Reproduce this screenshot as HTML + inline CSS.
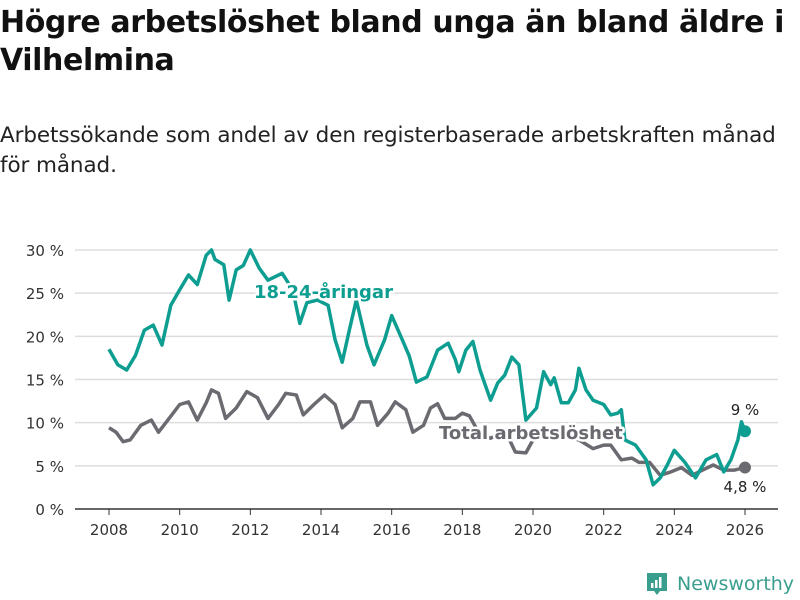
<!DOCTYPE html>
<html><head><meta charset="utf-8"><style>
body{margin:0;width:800px;height:600px;background:#fff;font-family:"Liberation Sans","DejaVu Sans",sans-serif;overflow:hidden;position:relative}
h1{position:absolute;left:0;top:4px;margin:0;font-size:30px;line-height:38px;font-weight:bold;color:#111;font-family:"DejaVu Sans",sans-serif;letter-spacing:-0.4px}
.sub{position:absolute;left:0;top:121px;font-size:21.5px;line-height:30px;color:#222;font-family:"DejaVu Sans",sans-serif;letter-spacing:-0.1px}
svg{position:absolute;left:0;top:0}
</style></head><body>
<h1>Högre arbetslöshet bland unga än bland äldre i<br>Vilhelmina</h1>
<div class="sub">Arbetssökande som andel av den registerbaserade arbetskraften månad<br>för månad.</div>
<svg id="c" width="800" height="600"></svg>
<script>
const youthX=[2008.0,2008.25,2008.5,2008.75,2009.0,2009.25,2009.5,2009.75,2010.0,2010.25,2010.5,2010.75,2010.9,2011.0,2011.25,2011.4,2011.6,2011.8,2012.0,2012.25,2012.5,2012.9,2013.2,2013.4,2013.6,2013.9,2014.2,2014.4,2014.6,2014.8,2015.0,2015.3,2015.5,2015.8,2016.0,2016.3,2016.5,2016.7,2017.0,2017.3,2017.6,2017.8,2017.9,2018.1,2018.3,2018.5,2018.8,2019.0,2019.2,2019.4,2019.6,2019.8,2020.1,2020.3,2020.5,2020.6,2020.8,2021.0,2021.2,2021.3,2021.5,2021.7,2022.0,2022.2,2022.4,2022.5,2022.6,2022.9,2023.2,2023.4,2023.6,2023.8,2024.0,2024.3,2024.6,2024.9,2025.2,2025.4,2025.6,2025.8,2025.9,2026.0];
const youthV=[18.5,16.7,16.1,17.8,20.7,21.3,19.0,23.6,25.4,27.1,26.0,29.4,30.0,28.9,28.3,24.2,27.7,28.2,30.0,27.9,26.5,27.3,25.4,21.5,23.9,24.2,23.6,19.6,17.0,20.7,24.2,19.0,16.7,19.6,22.4,19.6,17.7,14.7,15.3,18.4,19.2,17.3,15.9,18.4,19.4,16.1,12.6,14.6,15.5,17.6,16.7,10.3,11.7,15.9,14.4,15.2,12.3,12.3,13.8,16.3,13.8,12.6,12.1,10.9,11.1,11.5,8.0,7.4,5.7,2.8,3.6,5.1,6.8,5.4,3.6,5.7,6.3,4.3,5.7,8.0,10.1,9.0];
const totalX=[2008.0,2008.2,2008.4,2008.6,2008.9,2009.2,2009.4,2009.7,2010.0,2010.25,2010.5,2010.75,2010.9,2011.1,2011.3,2011.6,2011.9,2012.2,2012.5,2012.8,2013.0,2013.3,2013.5,2013.8,2014.1,2014.4,2014.6,2014.9,2015.1,2015.4,2015.6,2015.9,2016.1,2016.4,2016.6,2016.9,2017.1,2017.3,2017.5,2017.8,2018.0,2018.2,2018.5,2018.8,2019.0,2019.2,2019.5,2019.8,2020.0,2020.4,2020.8,2021.3,2021.7,2022.0,2022.2,2022.5,2022.8,2023.0,2023.3,2023.6,2023.9,2024.2,2024.5,2024.8,2025.1,2025.4,2025.7,2026.0];
const totalV=[9.4,8.9,7.8,8.0,9.7,10.3,8.9,10.5,12.1,12.4,10.3,12.3,13.8,13.4,10.5,11.7,13.6,12.9,10.5,12.1,13.4,13.2,10.9,12.1,13.2,12.1,9.4,10.5,12.4,12.4,9.7,11.1,12.4,11.5,8.9,9.7,11.7,12.2,10.5,10.5,11.1,10.8,8.6,8.2,8.6,9.2,6.6,6.5,8.0,9.0,8.5,8.0,7.0,7.4,7.4,5.7,5.9,5.4,5.4,3.9,4.3,4.8,3.9,4.5,5.1,4.5,4.5,4.8];
const yTicks=[0,5,10,15,20,25,30];
const xTicks=[2008,2010,2012,2014,2016,2018,2020,2022,2024,2026];
const NS='http://www.w3.org/2000/svg';
const svg=document.getElementById('c');
const sx=v=>109+(v-2008)*(745-109)/18;
const sy=v=>509-v*(509-250)/30;
function mk(t,a,p){const e=document.createElementNS(NS,t);for(const k in a)e.setAttribute(k,a[k]);(p||svg).appendChild(e);return e;}
yTicks.forEach(t=>{
  const l=mk('line',{x1:75,x2:778,y1:sy(t),y2:sy(t),stroke:t===0?'#333':'#ddd','stroke-width':1.5});
  
  
  const tx=mk('text',{x:64,y:sy(t)+6,'text-anchor':'end','font-size':15,fill:'#333','font-family':'DejaVu Sans,sans-serif'});
  tx.textContent=t+' %';
  
  
});
xTicks.forEach(t=>{
  mk('line',{x1:sx(t),x2:sx(t),y1:509,y2:515,stroke:'#333'});
  const tx=mk('text',{x:sx(t),y:535,'text-anchor':'middle','font-size':15,fill:'#333','font-family':'DejaVu Sans,sans-serif'});
  tx.textContent=t;
  
  
});
function line(xs,vs,col,name){
  const d=xs.map((x,i)=>(i?'L':'M')+sx(x).toFixed(1)+','+sy(vs[i]).toFixed(1)).join('');
  const p=mk('path',{d:d,fill:'none',stroke:col,'stroke-width':3.5,'stroke-linejoin':'round'});
  
  
  const c=mk('circle',{cx:sx(xs[xs.length-1]),cy:sy(vs[vs.length-1]),r:6,fill:col});
  
  
}
line(totalX,totalV,'#6b6a70','total-line');
line(youthX,youthV,'#0e9e91','youth-line');
function lab(x,y,txt,col,size,w,name,anchor){
  const t=mk('text',{x:x,y:y,'font-size':size,'font-weight':w,fill:col,stroke:'#fff','stroke-width':5,'paint-order':'stroke','stroke-linejoin':'round','font-family':'DejaVu Sans,sans-serif','text-anchor':anchor||'start'});
  t.textContent=txt;
  
  
}
lab(254,298,'18-24-åringar','#0e9e91',18,'bold','youth-series-label');
lab(439,439,'Total arbetslöshet','#6b6a70',18,'bold','total-series-label');
lab(745,415,'9 %','#222',15,'normal','youth-end-label','middle');
lab(745,492,'4,8 %','#222',15,'normal','total-end-label','middle');
</script>
<div style="position:absolute;left:645px;top:571px;height:26px;display:flex;align-items:center">
<svg width="24" height="26" style="position:static" viewBox="0 0 24 26"><path d="M2 2h20v18h-7l-3 4-3-4H2z" fill="#3a9e8e"/><rect x="6" y="12" width="2.5" height="5" fill="#fff"/><rect x="10" y="9" width="2.5" height="8" fill="#fff"/><rect x="14" y="6" width="2.5" height="11" fill="#fff"/></svg>
<span style="margin-left:8px;font-size:19px;color:#3a9e8e;font-family:'DejaVu Sans',sans-serif">Newsworthy</span></div>
</body></html>
